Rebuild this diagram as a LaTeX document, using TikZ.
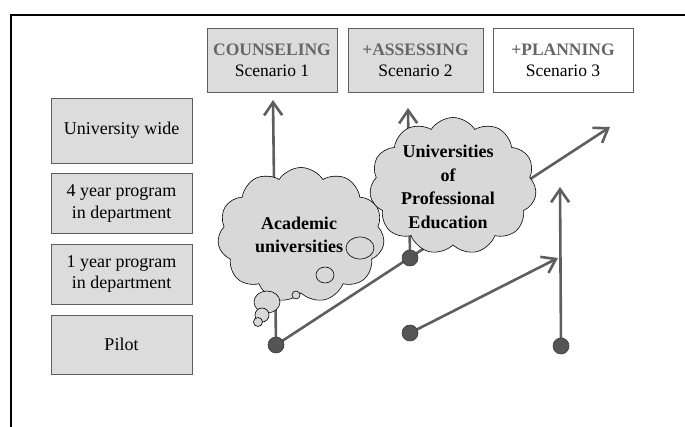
\documentclass[tikz,border=0pt]{standalone}
\usepackage{fontspec}
\setmainfont{Liberation Serif}
\usetikzlibrary{shapes.symbols,arrows.meta}
\definecolor{boxfill}{HTML}{DCDCDC}
\definecolor{boxdraw}{HTML}{5F5F5F}
\definecolor{linegray}{HTML}{5E5E5E}
\definecolor{dotfill}{HTML}{555555}
\definecolor{headgray}{HTML}{666666}
\definecolor{cloudfill}{HTML}{D8D8D8}
\tikzset{
  levelbox/.style={draw=boxdraw, line width=0.9pt, fill=boxfill, minimum width=141pt, inner sep=0pt, align=center, font=\fontsize{18}{21.5}\selectfont},
  scenbox/.style={draw=boxdraw, line width=0.9pt, fill=boxfill, minimum height=64pt, inner sep=0pt, align=center, font=\fontsize{17.5}{21}\selectfont},
  arr/.style={draw=linegray, line width=2.6pt, -{Straight Barb[length=13pt,width=18pt]}},
  dot/.style={circle, fill=dotfill, draw=dotfill!70!black, line width=0.6pt, minimum size=16pt, inner sep=0pt},
  cloudy/.style={cloud, cloud puffs=11, cloud puff arc=115, cloud ignores aspect, draw=black, line width=0.6pt, fill=cloudfill, inner sep=0pt},
  bubble/.style={draw=black, line width=0.6pt, fill=cloudfill},
  cloudtext/.style={align=center, font=\fontsize{18}{23.5}\selectfont\bfseries}
}
\begin{document}
\begin{tikzpicture}[x=1pt,y=-1pt]
\useasboundingbox (0,0) rectangle (685,427);
\draw[line width=2pt] (11,427) -- (11,15) -- (685,15);

% level boxes
\node[levelbox, minimum height=65pt] (lv4) at (121.5,130.5) {University wide};
\node[levelbox, minimum height=60pt] (lv3) at (121.5,203.5) {4 year program\\in department};
\node[levelbox, minimum height=60pt] (lv2) at (121.5,274) {1 year program\\in department};
\node[levelbox, minimum height=59pt] (lv1) at (121.5,344.5) {Pilot};

% scenario boxes
\node[scenbox, minimum width=130pt] (s1) at (272,60) {{\bfseries\color{headgray}COUNSELING}\\Scenario 1};
\node[scenbox, minimum width=135pt] (s2) at (415.5,60) {{\bfseries\color{headgray}+ASSESSING}\\Scenario 2};
\node[scenbox, minimum width=140pt, fill=white] (s3) at (563,60) {{\bfseries\color{headgray}+PLANNING}\\Scenario 3};

% dot centres and arrow tips
\coordinate (pA) at (276,345);
\coordinate (pB) at (410,258);
\coordinate (pC) at (410,333);
\coordinate (pD) at (561,346);
\coordinate (t1) at (273,100);
\coordinate (t2) at (408,108);
\coordinate (t3) at (610,127);
\coordinate (t4) at (558,258);
\coordinate (t5) at (560,187);

% connectors
\draw[arr] (pA) -- (t1);
\draw[arr] (pB) -- (t2);
\draw[arr] (pA) -- (t3);
\draw[arr] (pC) -- (t4);
\draw[arr] (pD) -- (t5);

% cloud 1
\node[cloudy, minimum width=167pt, minimum height=135pt] (c1) at (301,235) {};
\draw[bubble] (360,248) ellipse [x radius=14pt, y radius=11pt];
\draw[bubble] (325,275) ellipse [x radius=9pt, y radius=8pt];
\draw[bubble] (296,295) circle [radius=4pt];
\draw[bubble] (267,302) ellipse [x radius=13pt, y radius=11pt];
\draw[bubble] (262,315) circle [radius=7pt];
\draw[bubble] (258,322) circle [radius=4.5pt];
\node[cloudtext] (c1t) at (299,235) {Academic\\universities};

% cloud 2
\node[cloudy, minimum width=167pt, minimum height=137pt] (c2) at (453,186) {};
\node[cloudtext] (c2t) at (448,187) {Universities\\of\\Professional\\Education};

% dots
\node[dot] (A) at (pA) {};
\node[dot] (B) at (pB) {};
\node[dot] (C) at (pC) {};
\node[dot] (D) at (pD) {};
\end{tikzpicture}
\end{document}
